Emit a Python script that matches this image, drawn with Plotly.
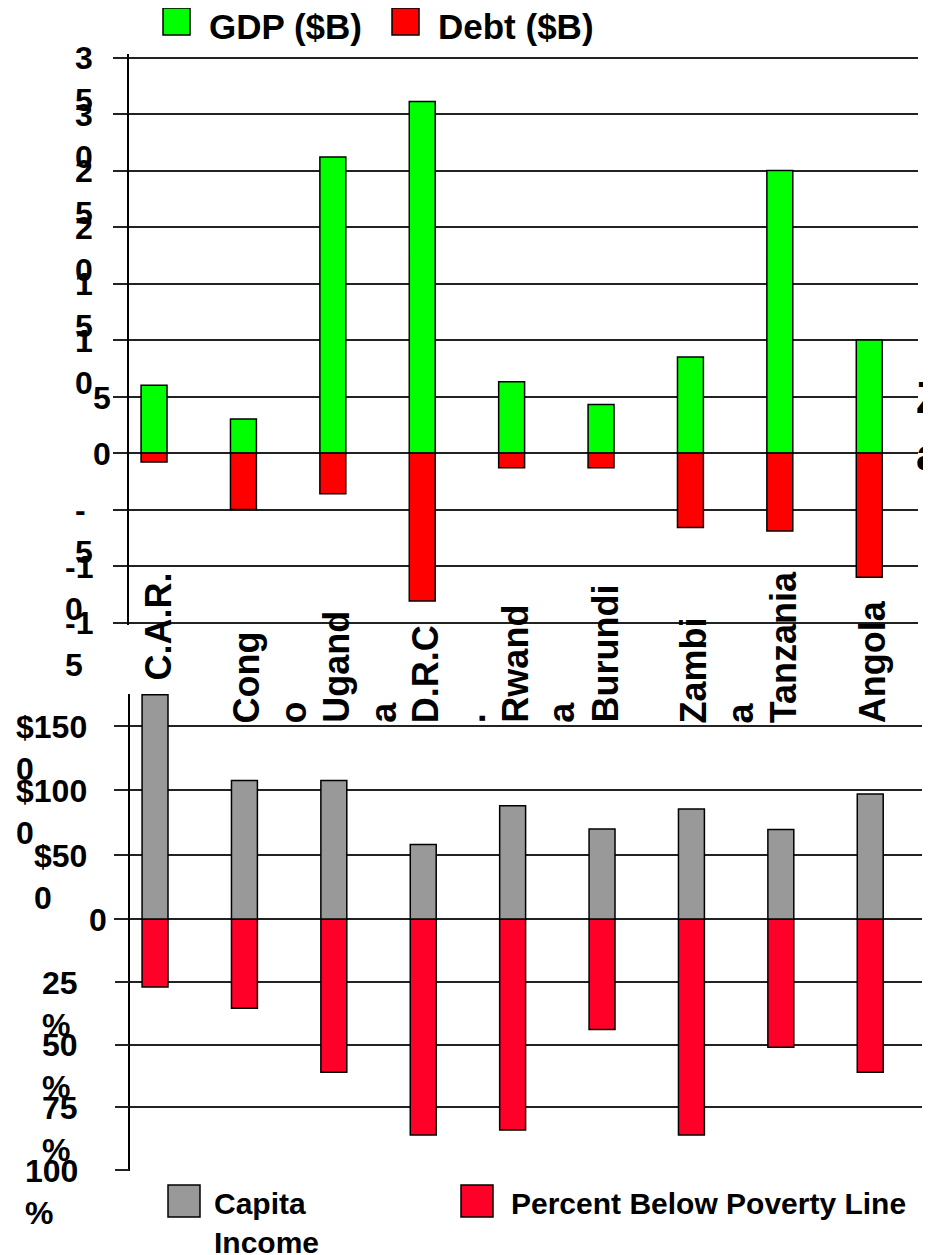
import plotly.graph_objects as go

# the page body has an 8px margin, so the figure is 8px smaller than the window
OFF = 8
W, H = 931 - OFF, 1255 - OFF

countries = ["C.A.R.", "Congo", "Uganda", "D.R.C.", "Rwanda", "Burundi", "Zambia", "Tanzania", "Angola"]
country_labels = ["C.A.R.", "Cong<br>o", "Ugand<br>a", "D.R.C<br>.", "Rwand<br>a", "Burundi", "Zambi<br>a", "Tanzania", "Angola"]
gdp = [6.0, 3.0, 26.2, 31.1, 6.3, 4.3, 8.5, 25.0, 10.0]
debt = [-0.8, -5.0, -3.6, -13.1, -1.3, -1.3, -6.6, -6.9, -11.0]
income = [1740, 1075, 1075, 580, 880, 700, 855, 695, 970]
poverty = [27, 35.5, 61, 86, 84, 44, 86, 51, 61]

top_tickvals = [35, 30, 25, 20, 15, 10, 5, 0, -5, -10, -15]
top_ticktext = ["3<br>5", "3<br>0", "2<br>5", "2<br>0", "1<br>5", "1<br>0", "5", "0", "-<br>5", "-1<br>0", "-1<br>5"]
income_tickvals = [1500, 1000, 500, 0]
income_ticktext = ["$150<br>0", "$100<br>0", "$50<br>0", "0"]
poverty_tickvals = [25, 50, 75, 100]
poverty_ticktext = ["25<br>%", "50<br>%", "75<br>%", "100<br>%"]

FONT = "Liberation Sans, Arial, sans-serif"
GRID = "#222"


def bold(size):
    return dict(family=FONT, size=size, color="black", weight="bold")


# window pixel -> paper coordinates
def px(x):
    return (x - OFF) / W


def py(y):
    return 1 - (y - OFF) / H


# top panel: 0 at y=453, 11.3 px per $B
top_range = [-15.25, 35.3]
top_dom = [py(453 - top_range[0] * 11.3), py(453 - top_range[1] * 11.3)]
# bottom panel: shared zero at y=919.3, plot from y=694 to y=1171
money_ppu = 193.6 / 1500
pct_ppu = 250.7 / 100
bot_top, bot_bot, bot_zero = 694, 1171, 919.3
money_range = [-(bot_bot - bot_zero) / money_ppu, (bot_zero - bot_top) / money_ppu]
pct_range = [(bot_bot - bot_zero) / pct_ppu, -(bot_zero - bot_top) / pct_ppu]
bot_dom = [py(bot_bot), py(bot_top)]

bar_line = dict(color="black", width=1.5)
fig = go.Figure()
fig.add_trace(go.Bar(x=countries, y=gdp, name="GDP ($B)", width=0.29,
                     marker=dict(color="#00FF00", line=bar_line), xaxis="x", yaxis="y"))
fig.add_trace(go.Bar(x=countries, y=debt, name="Debt ($B)", width=0.29,
                     marker=dict(color="#FF0000", line=bar_line), xaxis="x", yaxis="y"))
fig.add_trace(go.Bar(x=countries, y=income, name="Capita Income", width=0.29,
                     marker=dict(color="#999999", line=bar_line), xaxis="x2", yaxis="y2"))
fig.add_trace(go.Bar(x=countries, y=poverty, name="Percent Below Poverty Line", width=0.29,
                     marker=dict(color="#FF0028", line=bar_line), xaxis="x2", yaxis="y3"))

yax = dict(showticklabels=False, ticks="outside", ticklen=14, tickcolor=GRID, tickwidth=1.5,
           showgrid=True, gridcolor=GRID, gridwidth=1.5, zeroline=False)
xax = dict(showticklabels=False, showgrid=False, zeroline=False, showline=False, ticks="")

fig.update_layout(
    width=W, height=H, margin=dict(l=0, r=0, t=0, b=0),
    paper_bgcolor="white", plot_bgcolor="rgba(0,0,0,0)",
    barmode="relative", showlegend=False,
    xaxis=dict(xax, domain=[px(129), px(918)], range=[-0.28, -0.28 + 789 / 89.4], anchor="y"),
    yaxis=dict(yax, domain=top_dom, range=top_range, tickvals=top_tickvals, anchor="x",
               showline=True, linecolor="black", linewidth=2),
    xaxis2=dict(xax, domain=[px(130), px(922)], range=[-0.28, -0.28 + 792 / 89.4], anchor="y2"),
    yaxis2=dict(yax, domain=bot_dom, range=money_range, tickvals=income_tickvals, anchor="x2",
                showline=True, linecolor="black", linewidth=2),
    yaxis3=dict(yax, range=pct_range, tickvals=poverty_tickvals, anchor="x2", overlaying="y2", side="left"),
)


# wrapped tick labels, first line sits on its gridline
def tick_labels(vals, texts, yref, right_wrapped, right_single, size):
    for v, t in zip(vals, texts):
        n = t.count("<br>") + 1
        right = right_wrapped if n > 1 else right_single
        fig.add_annotation(x=px(right), xref="paper", xanchor="right", y=v, yref=yref, yanchor="middle",
                           yshift=-(n - 1) * 0.65 * size - 1, text=t, align="left", showarrow=False,
                           font=bold(size))


tick_labels(top_tickvals, top_ticktext, "y", 95, 113, 32)
tick_labels(income_tickvals, income_ticktext, "y2", 89, 109, 32)
tick_labels(poverty_tickvals, poverty_ticktext, "y3", 80, 80, 32)

# rotated country names between the panels
label_lift = {"C.A.R.": 42}
for c, lab in zip(countries, country_labels):
    fig.add_annotation(x=c, xref="x", xanchor="left", xshift=-19, y=py(725), yref="paper", yanchor="bottom",
                       yshift=label_lift.get(c, 0), textangle=-90, text=lab, align="left",
                       showarrow=False, font=bold(36))

# cut-off text at the right edge (only its left part fits on the page)
fig.add_annotation(x=px(914), xref="paper", xanchor="left", y=py(426), yref="paper", yanchor="middle",
                   text="Z<br>a", align="left", showarrow=False, font=bold(44))

# legends drawn by hand (large swatches)
legend_items = [
    (163, 8, 27, "#00FF00", 207, 27, "GDP ($B)", 35),
    (392, 8, 27, "#FF0000", 436, 27, "Debt ($B)", 35),
]
for sx, sy, s, col, tx, ty, txt, size in legend_items:
    fig.add_shape(type="rect", xref="paper", yref="paper", x0=px(sx), x1=px(sx + s), y0=py(sy), y1=py(sy + s),
                  fillcolor=col, line=dict(color="black", width=1.5))
    fig.add_annotation(x=px(tx), xref="paper", xanchor="left", y=py(ty), yref="paper", yanchor="middle",
                       text=txt, showarrow=False, font=bold(size))

fig.add_shape(type="rect", xref="paper", yref="paper", x0=px(168), x1=px(200), y0=py(1185), y1=py(1217),
              fillcolor="#999999", line=dict(color="black", width=1.5))
fig.add_annotation(x=px(212), xref="paper", xanchor="left", y=py(1185), yref="paper", yanchor="top",
                   text="Capita<br>Income", align="left", showarrow=False, font=bold(30))
fig.add_shape(type="rect", xref="paper", yref="paper", x0=px(461), x1=px(493), y0=py(1185), y1=py(1217),
              fillcolor="#FF0028", line=dict(color="black", width=1.5))
fig.add_annotation(x=px(509), xref="paper", xanchor="left", y=py(1203), yref="paper", yanchor="middle",
                   text="Percent Below Poverty Line", showarrow=False, font=bold(30))

fig.write_html("out.html")
